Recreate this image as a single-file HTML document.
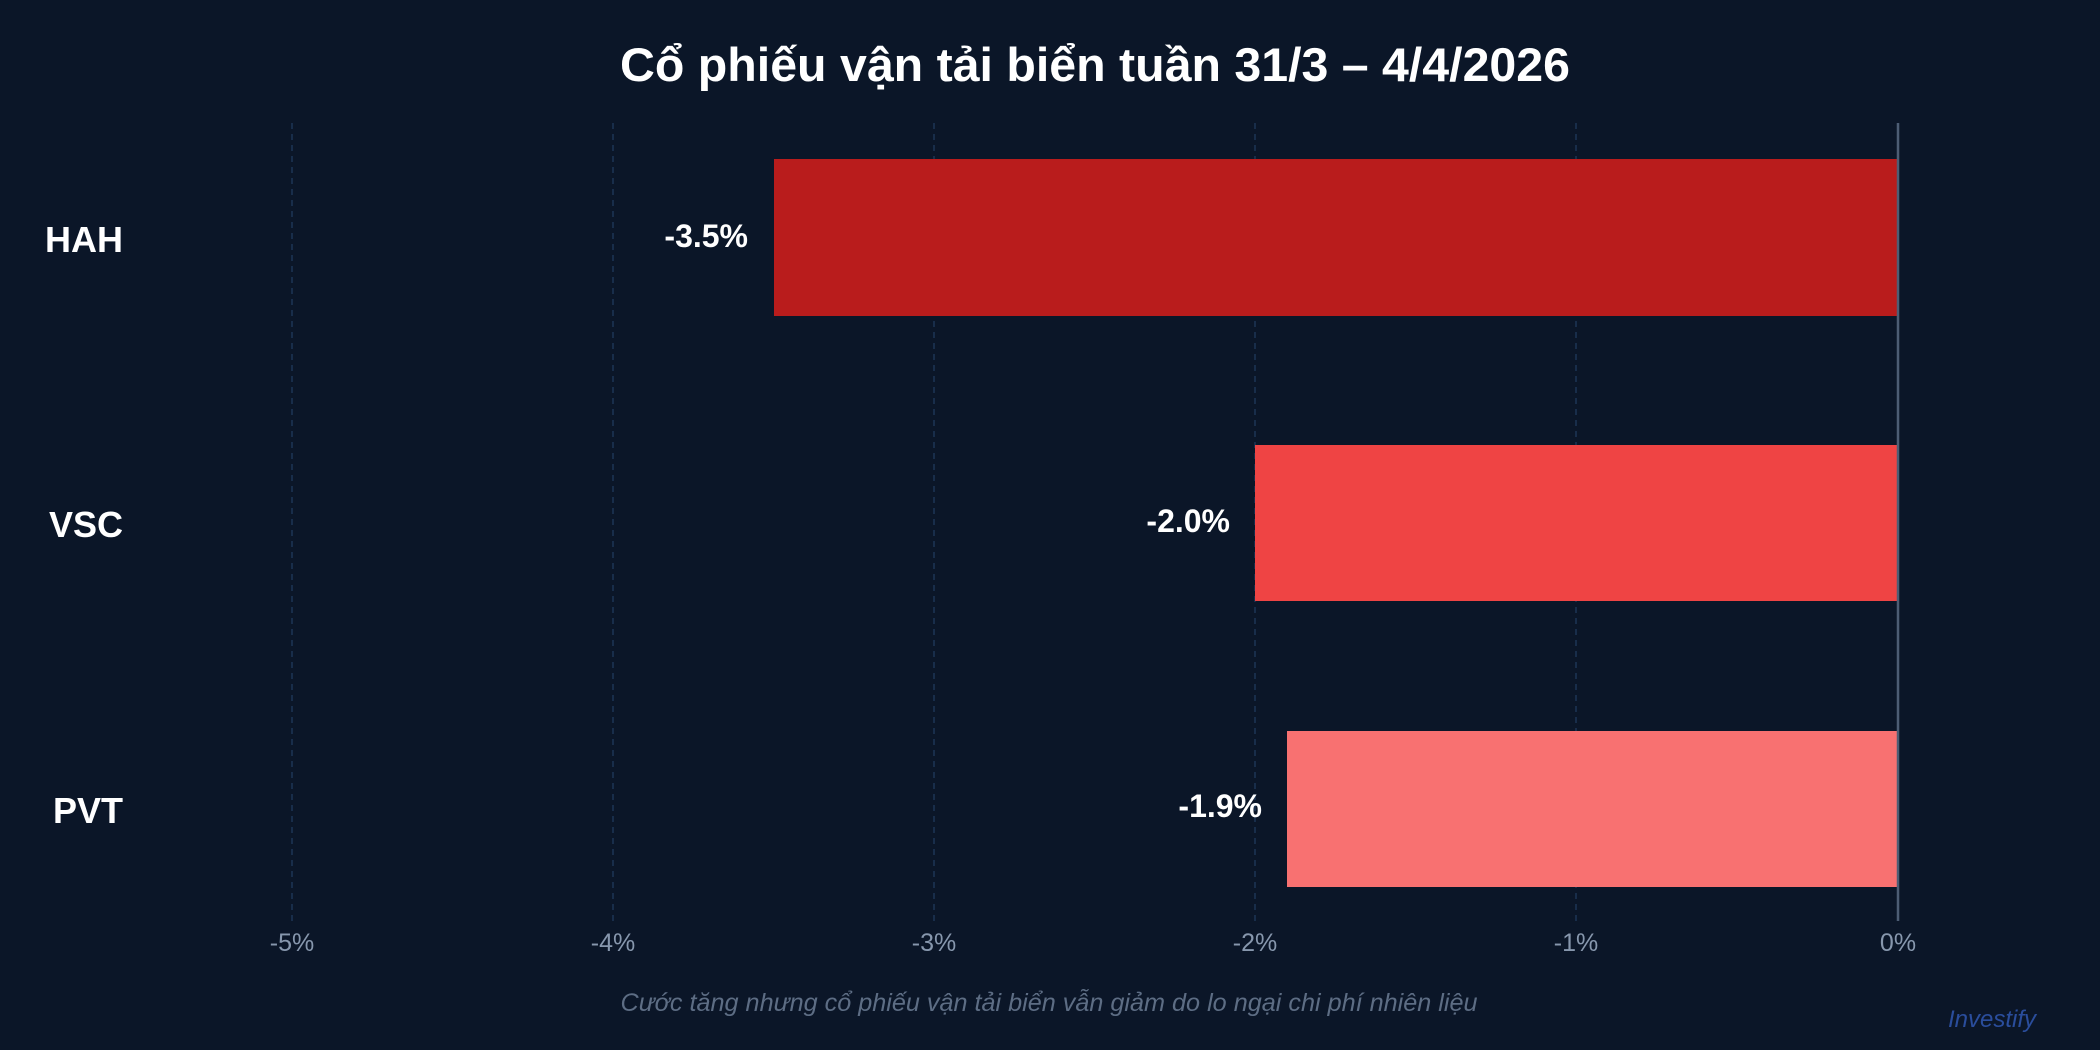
<!DOCTYPE html>
<html><head><meta charset="utf-8"><style>
body{margin:0;background:#0b1628;}
svg{display:block}
</style></head><body>
<svg width="2100" height="1050" xmlns="http://www.w3.org/2000/svg" font-family="'Liberation Sans', 'Noto Sans CJK SC', sans-serif">
<rect width="2100" height="1050" fill="#0b1628"/>
<text x="1095" y="81" text-anchor="middle" font-size="47" font-weight="bold" fill="#ffffff" textLength="950" lengthAdjust="spacingAndGlyphs">Cổ phiếu vận tải biển tuần 31/3 – 4/4/2026</text>
<g stroke="#1d3556" stroke-width="1.5" stroke-dasharray="6,5">
<line x1="292" y1="123" x2="292" y2="921"/>
<line x1="613" y1="123" x2="613" y2="921"/>
<line x1="934" y1="123" x2="934" y2="921"/>
<line x1="1255" y1="123" x2="1255" y2="921"/>
<line x1="1576" y1="123" x2="1576" y2="921"/>
</g>
<rect x="774" y="159" width="1124" height="157" fill="#b91c1c"/>
<rect x="1255" y="445" width="643" height="156" fill="#ef4444"/>
<rect x="1287" y="731" width="611" height="156" fill="#f87171"/>
<line x1="1898" y1="123" x2="1898" y2="921" stroke="#4d5d74" stroke-width="2.5"/>
<g font-size="36" font-weight="bold" fill="#fff" text-anchor="end">
<text x="123" y="252">HAH</text>
<text x="123" y="537">VSC</text>
<text x="123" y="823">PVT</text>
</g>
<g font-size="32" font-weight="bold" fill="#fff" text-anchor="end">
<text x="748" y="247">-3.5%</text>
<text x="1230" y="532">-2.0%</text>
<text x="1262" y="817">-1.9%</text>
</g>
<g font-size="25" fill="#8797ad" text-anchor="middle">
<text x="292" y="951">-5%</text>
<text x="613" y="951">-4%</text>
<text x="934" y="951">-3%</text>
<text x="1255" y="951">-2%</text>
<text x="1576" y="951">-1%</text>
<text x="1898" y="951">0%</text>
</g>
<text x="1049" y="1011" text-anchor="middle" font-size="25" font-style="italic" fill="#5d6d84" textLength="857" lengthAdjust="spacingAndGlyphs">Cước tăng nhưng cổ phiếu vận tải biển vẫn giảm do lo ngại chi phí nhiên liệu</text>
<text x="2036" y="1027" text-anchor="end" font-size="24" font-style="italic" fill="#2a4d9c">Investify</text>
</svg>
</body></html>
